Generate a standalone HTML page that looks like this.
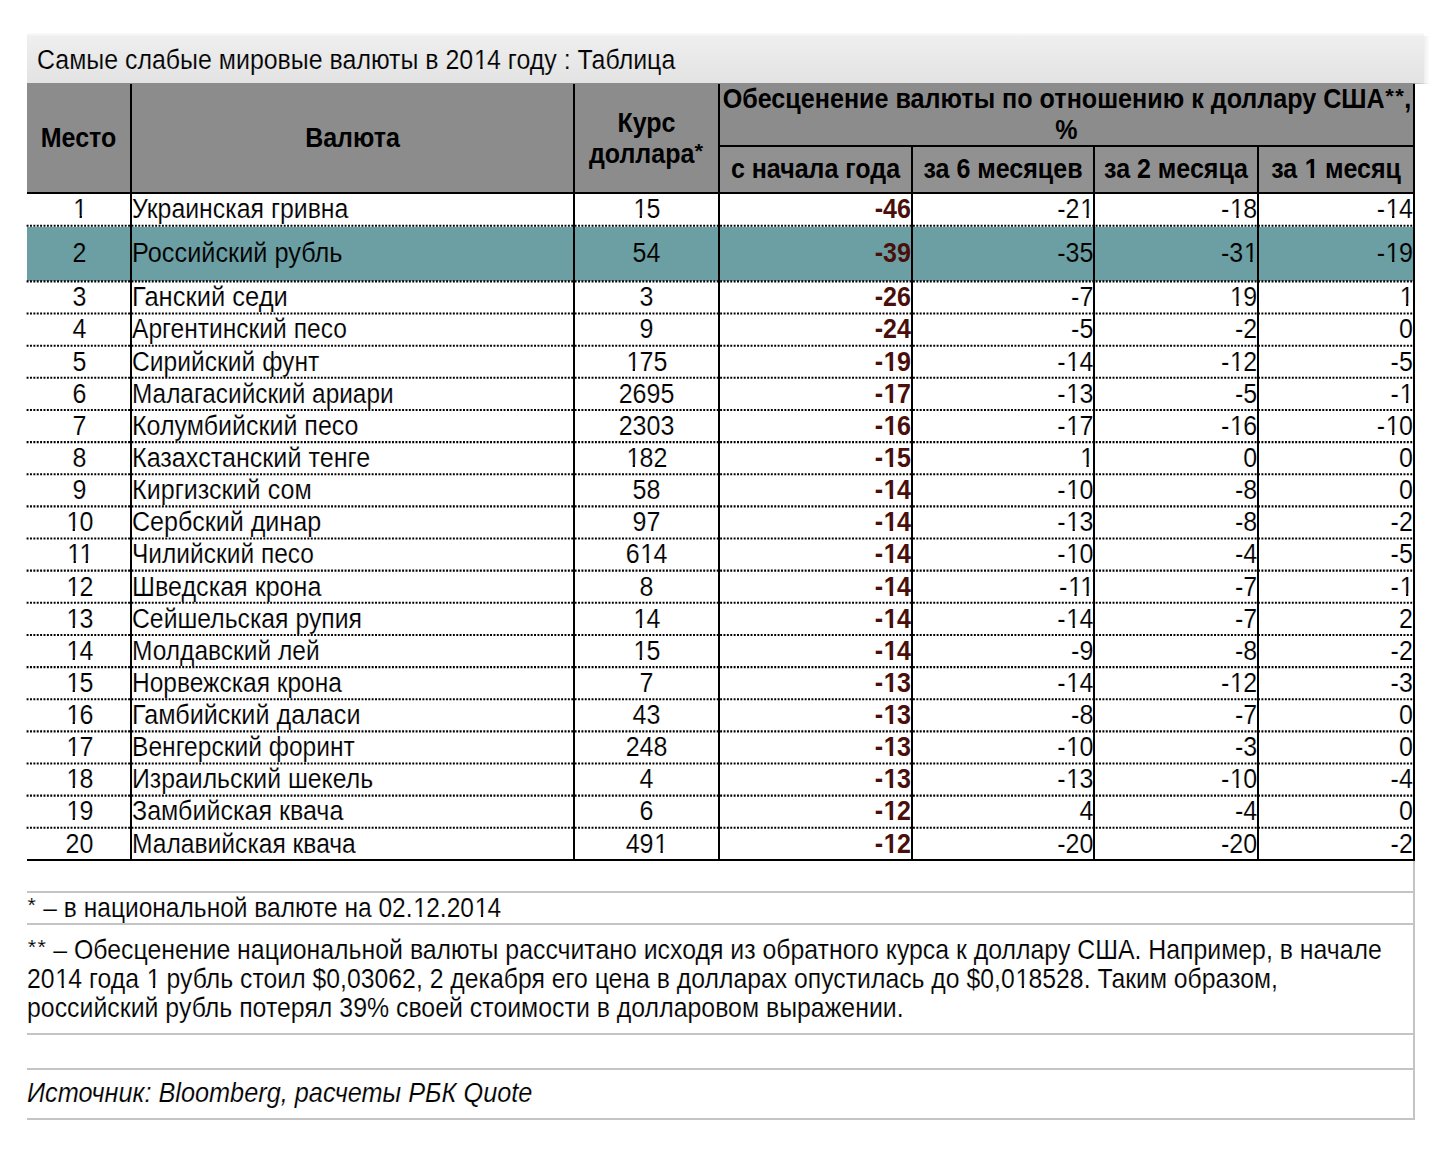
<!DOCTYPE html>
<html><head><meta charset="utf-8"><title>Самые слабые мировые валюты в 2014 году</title>
<style>
html,body{margin:0;padding:0;background:#fff;}
body{width:1440px;height:1150px;position:relative;overflow:hidden;font-family:"Liberation Sans",sans-serif;color:#000;}
.r{position:absolute;}
.t{position:absolute;font-size:25.0px;line-height:30.0px;white-space:nowrap;transform-origin:0 23.66px;-webkit-text-stroke:0.15px #fff;}
.b{-webkit-text-stroke-width:0;}
.hd{-webkit-text-stroke-color:#8c8c8c;}
.sh{-webkit-text-stroke-color:#919191;}
.tl{-webkit-text-stroke-color:#ebebeb;}
.tr{-webkit-text-stroke-color:#6b9fa3;}
.c{text-align:center;}
.b{font-weight:bold;}
.i{font-style:italic;}
.red{color:#4a0f0b;}
.as{display:inline-block;transform:scale(0.87,0.75);transform-origin:50% 6.5px;}
.asb{display:inline-block;transform:scale(0.88,0.72);transform-origin:50% 6.5px;}
.o1{display:inline;position:relative;left:0.8px;clip-path:polygon(0 0,100% 0,100% 20.5px,8.55px 20.5px,8.55px 100%,6.25px 100%,6.25px 20.5px,0 20.5px);}
.o1b{display:inline;position:relative;left:0.75px;clip-path:polygon(0 0,100% 0,100% 19.9px,9.3px 19.9px,9.3px 100%,5.8px 100%,5.8px 19.9px,0 19.9px);}
</style></head><body>
<div class="r" style="left:27px;top:33px;width:1397.4px;height:50px;background:linear-gradient(#fbfbfb 0px,#efefef 3.5px,#e9e9e9 25px,#e3e3e3 50px);"></div>
<div class="r" style="left:1424.4px;top:36px;width:5px;height:47px;background:linear-gradient(90deg,#eeeeee,#fdfdfd);"></div>
<div class="r" style="left:1414.5px;top:82.6px;width:14px;height:1.6px;background:linear-gradient(90deg,#b8b8b8,#c8c8c8 40%,#fafafa);"></div>
<div class="t tl" style="left:37.30px;top:44.94px;transform:scale(0.9970,1.08);">Самые слабые мировые валюты в 20<span class="o1">1</span>4 году : Таблица</div>
<div class="r" style="left:27px;top:83px;width:1387.7px;height:110px;background:#8c8c8c;"></div>
<div class="r" style="left:720px;top:147px;width:693px;height:46px;background:#919191;"></div>
<div class="r" style="left:27px;top:226.5px;width:1386px;height:54.5px;background:#6b9fa3;"></div>
<svg class="r" style="left:0;top:0" width="1440" height="1150"><line x1="26.6" y1="225.70" x2="1413" y2="225.70" stroke="#000" stroke-width="2.1" stroke-dasharray="1.95 1.433"/><line x1="26.6" y1="281.40" x2="1413" y2="281.40" stroke="#000" stroke-width="2.1" stroke-dasharray="1.95 1.433"/><line x1="26.6" y1="313.54" x2="1413" y2="313.54" stroke="#000" stroke-width="2.1" stroke-dasharray="1.95 1.433"/><line x1="26.6" y1="345.68" x2="1413" y2="345.68" stroke="#000" stroke-width="2.1" stroke-dasharray="1.95 1.433"/><line x1="26.6" y1="377.82" x2="1413" y2="377.82" stroke="#000" stroke-width="2.1" stroke-dasharray="1.95 1.433"/><line x1="26.6" y1="409.96" x2="1413" y2="409.96" stroke="#000" stroke-width="2.1" stroke-dasharray="1.95 1.433"/><line x1="26.6" y1="442.10" x2="1413" y2="442.10" stroke="#000" stroke-width="2.1" stroke-dasharray="1.95 1.433"/><line x1="26.6" y1="474.24" x2="1413" y2="474.24" stroke="#000" stroke-width="2.1" stroke-dasharray="1.95 1.433"/><line x1="26.6" y1="506.38" x2="1413" y2="506.38" stroke="#000" stroke-width="2.1" stroke-dasharray="1.95 1.433"/><line x1="26.6" y1="538.52" x2="1413" y2="538.52" stroke="#000" stroke-width="2.1" stroke-dasharray="1.95 1.433"/><line x1="26.6" y1="570.66" x2="1413" y2="570.66" stroke="#000" stroke-width="2.1" stroke-dasharray="1.95 1.433"/><line x1="26.6" y1="602.80" x2="1413" y2="602.80" stroke="#000" stroke-width="2.1" stroke-dasharray="1.95 1.433"/><line x1="26.6" y1="634.94" x2="1413" y2="634.94" stroke="#000" stroke-width="2.1" stroke-dasharray="1.95 1.433"/><line x1="26.6" y1="667.08" x2="1413" y2="667.08" stroke="#000" stroke-width="2.1" stroke-dasharray="1.95 1.433"/><line x1="26.6" y1="699.22" x2="1413" y2="699.22" stroke="#000" stroke-width="2.1" stroke-dasharray="1.95 1.433"/><line x1="26.6" y1="731.36" x2="1413" y2="731.36" stroke="#000" stroke-width="2.1" stroke-dasharray="1.95 1.433"/><line x1="26.6" y1="763.50" x2="1413" y2="763.50" stroke="#000" stroke-width="2.1" stroke-dasharray="1.95 1.433"/><line x1="26.6" y1="795.64" x2="1413" y2="795.64" stroke="#000" stroke-width="2.1" stroke-dasharray="1.95 1.433"/><line x1="26.6" y1="827.78" x2="1413" y2="827.78" stroke="#000" stroke-width="2.1" stroke-dasharray="1.95 1.433"/></svg>
<div class="r" style="left:718.1px;top:145px;width:695px;height:2px;background:#000;"></div>
<div class="r" style="left:27px;top:192.2px;width:1387.7px;height:2px;background:#000;"></div>
<div class="r" style="left:27px;top:859px;width:1387.7px;height:2px;background:#000;"></div>
<div class="r" style="left:130.2px;top:84px;width:2px;height:777px;background:#000;"></div>
<div class="r" style="left:572.7px;top:84px;width:2px;height:777px;background:#000;"></div>
<div class="r" style="left:718.1px;top:84px;width:2px;height:777px;background:#000;"></div>
<div class="r" style="left:910.9px;top:145px;width:2px;height:716px;background:#000;"></div>
<div class="r" style="left:1093.3px;top:145px;width:2px;height:716px;background:#000;"></div>
<div class="r" style="left:1257.1px;top:145px;width:2px;height:716px;background:#000;"></div>
<div class="r" style="left:1412.8px;top:84px;width:2px;height:777px;background:#000;"></div>
<div class="t c b hd" style="left:-521.50px;width:1200px;top:123.34px;transform:scale(1.0000,1.08);transform-origin:600px 23.66px;">Место</div>
<div class="t c b hd" style="left:-247.50px;width:1200px;top:123.34px;transform:scale(1.0000,1.08);transform-origin:600px 23.66px;">Валюта</div>
<div class="t c b hd" style="left:46.50px;width:1200px;top:107.94px;transform:scale(1.0000,1.08);transform-origin:600px 23.66px;">Курс</div>
<div class="t c b hd" style="left:46.50px;width:1200px;top:138.54px;transform:scale(1.0000,1.08);transform-origin:600px 23.66px;">доллара<span class="asb">*</span></div>
<div class="t c b hd" style="left:466.50px;width:1200px;top:84.14px;transform:scale(1.0050,1.08);transform-origin:600px 23.66px;">Обесценение валюты по отношению к доллару США<span class="asb">*</span><span class="asb">*</span>,</div>
<div class="t c b hd" style="left:466.30px;width:1200px;top:114.74px;transform:scale(1.0000,1.08);transform-origin:600px 23.66px;">%</div>
<div class="t c b sh" style="left:215.50px;width:1200px;top:153.94px;transform:scale(1.0000,1.08);transform-origin:600px 23.66px;">с начала года</div>
<div class="t c b sh" style="left:403.00px;width:1200px;top:153.94px;transform:scale(1.0000,1.08);transform-origin:600px 23.66px;">за 6 месяцев</div>
<div class="t c b sh" style="left:576.00px;width:1200px;top:153.94px;transform:scale(1.0000,1.08);transform-origin:600px 23.66px;">за 2 месяца</div>
<div class="t c b sh" style="left:736.00px;width:1200px;top:153.94px;transform:scale(1.0000,1.08);transform-origin:600px 23.66px;">за <span class="o1b">1</span> месяц</div>
<div class="t c " style="left:-520.50px;width:1200px;top:194.24px;transform:scale(1.0000,1.08);transform-origin:600px 23.66px;"><span class="o1">1</span></div>
<div class="t " style="left:132.10px;top:194.24px;transform:scale(0.9945,1.08);">Украинская гривна</div>
<div class="t c " style="left:46.50px;width:1200px;top:194.24px;transform:scale(1.0000,1.08);transform-origin:600px 23.66px;"><span class="o1">1</span>5</div>
<div class="t b red" style="right:529.10px;top:194.24px;transform:scale(1.0000,1.08);transform-origin:100% 23.66px;">-46</div>
<div class="t " style="right:346.70px;top:194.24px;transform:scale(1.0000,1.08);transform-origin:100% 23.66px;">-2<span class="o1">1</span></div>
<div class="t " style="right:182.90px;top:194.24px;transform:scale(1.0000,1.08);transform-origin:100% 23.66px;">-<span class="o1">1</span>8</div>
<div class="t " style="right:27.20px;top:194.24px;transform:scale(1.0000,1.08);transform-origin:100% 23.66px;">-<span class="o1">1</span>4</div>
<div class="t c  tr" style="left:-520.50px;width:1200px;top:238.34px;transform:scale(1.0000,1.08);transform-origin:600px 23.66px;">2</div>
<div class="t  tr" style="left:132.10px;top:238.34px;transform:scale(1.0122,1.08);">Российский рубль</div>
<div class="t c  tr" style="left:46.50px;width:1200px;top:238.34px;transform:scale(1.0000,1.08);transform-origin:600px 23.66px;">54</div>
<div class="t b red tr" style="right:529.10px;top:238.34px;transform:scale(1.0000,1.08);transform-origin:100% 23.66px;">-39</div>
<div class="t  tr" style="right:346.70px;top:238.34px;transform:scale(1.0000,1.08);transform-origin:100% 23.66px;">-35</div>
<div class="t  tr" style="right:182.90px;top:238.34px;transform:scale(1.0000,1.08);transform-origin:100% 23.66px;">-3<span class="o1">1</span></div>
<div class="t  tr" style="right:27.20px;top:238.34px;transform:scale(1.0000,1.08);transform-origin:100% 23.66px;">-<span class="o1">1</span>9</div>
<div class="t c " style="left:-520.50px;width:1200px;top:282.24px;transform:scale(1.0000,1.08);transform-origin:600px 23.66px;">3</div>
<div class="t " style="left:132.10px;top:282.24px;transform:scale(1.0214,1.08);">Ганский седи</div>
<div class="t c " style="left:46.50px;width:1200px;top:282.24px;transform:scale(1.0000,1.08);transform-origin:600px 23.66px;">3</div>
<div class="t b red" style="right:529.10px;top:282.24px;transform:scale(1.0000,1.08);transform-origin:100% 23.66px;">-26</div>
<div class="t " style="right:346.70px;top:282.24px;transform:scale(1.0000,1.08);transform-origin:100% 23.66px;">-7</div>
<div class="t " style="right:182.90px;top:282.24px;transform:scale(1.0000,1.08);transform-origin:100% 23.66px;"><span class="o1">1</span>9</div>
<div class="t " style="right:27.20px;top:282.24px;transform:scale(1.0000,1.08);transform-origin:100% 23.66px;"><span class="o1">1</span></div>
<div class="t c " style="left:-520.50px;width:1200px;top:314.38px;transform:scale(1.0000,1.08);transform-origin:600px 23.66px;">4</div>
<div class="t " style="left:132.10px;top:314.38px;transform:scale(0.9834,1.08);">Аргентинский песо</div>
<div class="t c " style="left:46.50px;width:1200px;top:314.38px;transform:scale(1.0000,1.08);transform-origin:600px 23.66px;">9</div>
<div class="t b red" style="right:529.10px;top:314.38px;transform:scale(1.0000,1.08);transform-origin:100% 23.66px;">-24</div>
<div class="t " style="right:346.70px;top:314.38px;transform:scale(1.0000,1.08);transform-origin:100% 23.66px;">-5</div>
<div class="t " style="right:182.90px;top:314.38px;transform:scale(1.0000,1.08);transform-origin:100% 23.66px;">-2</div>
<div class="t " style="right:27.20px;top:314.38px;transform:scale(1.0000,1.08);transform-origin:100% 23.66px;">0</div>
<div class="t c " style="left:-520.50px;width:1200px;top:346.52px;transform:scale(1.0000,1.08);transform-origin:600px 23.66px;">5</div>
<div class="t " style="left:132.10px;top:346.52px;transform:scale(0.9846,1.08);">Сирийский фунт</div>
<div class="t c " style="left:46.50px;width:1200px;top:346.52px;transform:scale(1.0000,1.08);transform-origin:600px 23.66px;"><span class="o1">1</span>75</div>
<div class="t b red" style="right:529.10px;top:346.52px;transform:scale(1.0000,1.08);transform-origin:100% 23.66px;">-<span class="o1b">1</span>9</div>
<div class="t " style="right:346.70px;top:346.52px;transform:scale(1.0000,1.08);transform-origin:100% 23.66px;">-<span class="o1">1</span>4</div>
<div class="t " style="right:182.90px;top:346.52px;transform:scale(1.0000,1.08);transform-origin:100% 23.66px;">-<span class="o1">1</span>2</div>
<div class="t " style="right:27.20px;top:346.52px;transform:scale(1.0000,1.08);transform-origin:100% 23.66px;">-5</div>
<div class="t c " style="left:-520.50px;width:1200px;top:378.66px;transform:scale(1.0000,1.08);transform-origin:600px 23.66px;">6</div>
<div class="t " style="left:132.10px;top:378.66px;transform:scale(0.9751,1.08);">Малагасийский ариари</div>
<div class="t c " style="left:46.50px;width:1200px;top:378.66px;transform:scale(1.0000,1.08);transform-origin:600px 23.66px;">2695</div>
<div class="t b red" style="right:529.10px;top:378.66px;transform:scale(1.0000,1.08);transform-origin:100% 23.66px;">-<span class="o1b">1</span>7</div>
<div class="t " style="right:346.70px;top:378.66px;transform:scale(1.0000,1.08);transform-origin:100% 23.66px;">-<span class="o1">1</span>3</div>
<div class="t " style="right:182.90px;top:378.66px;transform:scale(1.0000,1.08);transform-origin:100% 23.66px;">-5</div>
<div class="t " style="right:27.20px;top:378.66px;transform:scale(1.0000,1.08);transform-origin:100% 23.66px;">-<span class="o1">1</span></div>
<div class="t c " style="left:-520.50px;width:1200px;top:410.80px;transform:scale(1.0000,1.08);transform-origin:600px 23.66px;">7</div>
<div class="t " style="left:132.10px;top:410.80px;transform:scale(1.0009,1.08);">Колумбийский песо</div>
<div class="t c " style="left:46.50px;width:1200px;top:410.80px;transform:scale(1.0000,1.08);transform-origin:600px 23.66px;">2303</div>
<div class="t b red" style="right:529.10px;top:410.80px;transform:scale(1.0000,1.08);transform-origin:100% 23.66px;">-<span class="o1b">1</span>6</div>
<div class="t " style="right:346.70px;top:410.80px;transform:scale(1.0000,1.08);transform-origin:100% 23.66px;">-<span class="o1">1</span>7</div>
<div class="t " style="right:182.90px;top:410.80px;transform:scale(1.0000,1.08);transform-origin:100% 23.66px;">-<span class="o1">1</span>6</div>
<div class="t " style="right:27.20px;top:410.80px;transform:scale(1.0000,1.08);transform-origin:100% 23.66px;">-<span class="o1">1</span>0</div>
<div class="t c " style="left:-520.50px;width:1200px;top:442.94px;transform:scale(1.0000,1.08);transform-origin:600px 23.66px;">8</div>
<div class="t " style="left:132.10px;top:442.94px;transform:scale(1.0055,1.08);">Казахстанский тенге</div>
<div class="t c " style="left:46.50px;width:1200px;top:442.94px;transform:scale(1.0000,1.08);transform-origin:600px 23.66px;"><span class="o1">1</span>82</div>
<div class="t b red" style="right:529.10px;top:442.94px;transform:scale(1.0000,1.08);transform-origin:100% 23.66px;">-<span class="o1b">1</span>5</div>
<div class="t " style="right:346.70px;top:442.94px;transform:scale(1.0000,1.08);transform-origin:100% 23.66px;"><span class="o1">1</span></div>
<div class="t " style="right:182.90px;top:442.94px;transform:scale(1.0000,1.08);transform-origin:100% 23.66px;">0</div>
<div class="t " style="right:27.20px;top:442.94px;transform:scale(1.0000,1.08);transform-origin:100% 23.66px;">0</div>
<div class="t c " style="left:-520.50px;width:1200px;top:475.08px;transform:scale(1.0000,1.08);transform-origin:600px 23.66px;">9</div>
<div class="t " style="left:132.10px;top:475.08px;transform:scale(1.0046,1.08);">Киргизский сом</div>
<div class="t c " style="left:46.50px;width:1200px;top:475.08px;transform:scale(1.0000,1.08);transform-origin:600px 23.66px;">58</div>
<div class="t b red" style="right:529.10px;top:475.08px;transform:scale(1.0000,1.08);transform-origin:100% 23.66px;">-<span class="o1b">1</span>4</div>
<div class="t " style="right:346.70px;top:475.08px;transform:scale(1.0000,1.08);transform-origin:100% 23.66px;">-<span class="o1">1</span>0</div>
<div class="t " style="right:182.90px;top:475.08px;transform:scale(1.0000,1.08);transform-origin:100% 23.66px;">-8</div>
<div class="t " style="right:27.20px;top:475.08px;transform:scale(1.0000,1.08);transform-origin:100% 23.66px;">0</div>
<div class="t c " style="left:-520.50px;width:1200px;top:507.22px;transform:scale(1.0000,1.08);transform-origin:600px 23.66px;"><span class="o1">1</span>0</div>
<div class="t " style="left:132.10px;top:507.22px;transform:scale(1.0038,1.08);">Сербский динар</div>
<div class="t c " style="left:46.50px;width:1200px;top:507.22px;transform:scale(1.0000,1.08);transform-origin:600px 23.66px;">97</div>
<div class="t b red" style="right:529.10px;top:507.22px;transform:scale(1.0000,1.08);transform-origin:100% 23.66px;">-<span class="o1b">1</span>4</div>
<div class="t " style="right:346.70px;top:507.22px;transform:scale(1.0000,1.08);transform-origin:100% 23.66px;">-<span class="o1">1</span>3</div>
<div class="t " style="right:182.90px;top:507.22px;transform:scale(1.0000,1.08);transform-origin:100% 23.66px;">-8</div>
<div class="t " style="right:27.20px;top:507.22px;transform:scale(1.0000,1.08);transform-origin:100% 23.66px;">-2</div>
<div class="t c " style="left:-520.50px;width:1200px;top:539.36px;transform:scale(1.0000,1.08);transform-origin:600px 23.66px;"><span class="o1">1</span><span class="o1">1</span></div>
<div class="t " style="left:132.10px;top:539.36px;transform:scale(0.9804,1.08);">Чилийский песо</div>
<div class="t c " style="left:46.50px;width:1200px;top:539.36px;transform:scale(1.0000,1.08);transform-origin:600px 23.66px;">6<span class="o1">1</span>4</div>
<div class="t b red" style="right:529.10px;top:539.36px;transform:scale(1.0000,1.08);transform-origin:100% 23.66px;">-<span class="o1b">1</span>4</div>
<div class="t " style="right:346.70px;top:539.36px;transform:scale(1.0000,1.08);transform-origin:100% 23.66px;">-<span class="o1">1</span>0</div>
<div class="t " style="right:182.90px;top:539.36px;transform:scale(1.0000,1.08);transform-origin:100% 23.66px;">-4</div>
<div class="t " style="right:27.20px;top:539.36px;transform:scale(1.0000,1.08);transform-origin:100% 23.66px;">-5</div>
<div class="t c " style="left:-520.50px;width:1200px;top:571.50px;transform:scale(1.0000,1.08);transform-origin:600px 23.66px;"><span class="o1">1</span>2</div>
<div class="t " style="left:132.10px;top:571.50px;transform:scale(1.0037,1.08);">Шведская крона</div>
<div class="t c " style="left:46.50px;width:1200px;top:571.50px;transform:scale(1.0000,1.08);transform-origin:600px 23.66px;">8</div>
<div class="t b red" style="right:529.10px;top:571.50px;transform:scale(1.0000,1.08);transform-origin:100% 23.66px;">-<span class="o1b">1</span>4</div>
<div class="t " style="right:346.70px;top:571.50px;transform:scale(1.0000,1.08);transform-origin:100% 23.66px;">-<span class="o1">1</span><span class="o1">1</span></div>
<div class="t " style="right:182.90px;top:571.50px;transform:scale(1.0000,1.08);transform-origin:100% 23.66px;">-7</div>
<div class="t " style="right:27.20px;top:571.50px;transform:scale(1.0000,1.08);transform-origin:100% 23.66px;">-<span class="o1">1</span></div>
<div class="t c " style="left:-520.50px;width:1200px;top:603.64px;transform:scale(1.0000,1.08);transform-origin:600px 23.66px;"><span class="o1">1</span>3</div>
<div class="t " style="left:132.10px;top:603.64px;transform:scale(0.9900,1.08);">Сейшельская рупия</div>
<div class="t c " style="left:46.50px;width:1200px;top:603.64px;transform:scale(1.0000,1.08);transform-origin:600px 23.66px;"><span class="o1">1</span>4</div>
<div class="t b red" style="right:529.10px;top:603.64px;transform:scale(1.0000,1.08);transform-origin:100% 23.66px;">-<span class="o1b">1</span>4</div>
<div class="t " style="right:346.70px;top:603.64px;transform:scale(1.0000,1.08);transform-origin:100% 23.66px;">-<span class="o1">1</span>4</div>
<div class="t " style="right:182.90px;top:603.64px;transform:scale(1.0000,1.08);transform-origin:100% 23.66px;">-7</div>
<div class="t " style="right:27.20px;top:603.64px;transform:scale(1.0000,1.08);transform-origin:100% 23.66px;">2</div>
<div class="t c " style="left:-520.50px;width:1200px;top:635.78px;transform:scale(1.0000,1.08);transform-origin:600px 23.66px;"><span class="o1">1</span>4</div>
<div class="t " style="left:132.10px;top:635.78px;transform:scale(0.9809,1.08);">Молдавский лей</div>
<div class="t c " style="left:46.50px;width:1200px;top:635.78px;transform:scale(1.0000,1.08);transform-origin:600px 23.66px;"><span class="o1">1</span>5</div>
<div class="t b red" style="right:529.10px;top:635.78px;transform:scale(1.0000,1.08);transform-origin:100% 23.66px;">-<span class="o1b">1</span>4</div>
<div class="t " style="right:346.70px;top:635.78px;transform:scale(1.0000,1.08);transform-origin:100% 23.66px;">-9</div>
<div class="t " style="right:182.90px;top:635.78px;transform:scale(1.0000,1.08);transform-origin:100% 23.66px;">-8</div>
<div class="t " style="right:27.20px;top:635.78px;transform:scale(1.0000,1.08);transform-origin:100% 23.66px;">-2</div>
<div class="t c " style="left:-520.50px;width:1200px;top:667.92px;transform:scale(1.0000,1.08);transform-origin:600px 23.66px;"><span class="o1">1</span>5</div>
<div class="t " style="left:132.10px;top:667.92px;transform:scale(0.9807,1.08);">Норвежская крона</div>
<div class="t c " style="left:46.50px;width:1200px;top:667.92px;transform:scale(1.0000,1.08);transform-origin:600px 23.66px;">7</div>
<div class="t b red" style="right:529.10px;top:667.92px;transform:scale(1.0000,1.08);transform-origin:100% 23.66px;">-<span class="o1b">1</span>3</div>
<div class="t " style="right:346.70px;top:667.92px;transform:scale(1.0000,1.08);transform-origin:100% 23.66px;">-<span class="o1">1</span>4</div>
<div class="t " style="right:182.90px;top:667.92px;transform:scale(1.0000,1.08);transform-origin:100% 23.66px;">-<span class="o1">1</span>2</div>
<div class="t " style="right:27.20px;top:667.92px;transform:scale(1.0000,1.08);transform-origin:100% 23.66px;">-3</div>
<div class="t c " style="left:-520.50px;width:1200px;top:700.06px;transform:scale(1.0000,1.08);transform-origin:600px 23.66px;"><span class="o1">1</span>6</div>
<div class="t " style="left:132.10px;top:700.06px;transform:scale(1.0067,1.08);">Гамбийский даласи</div>
<div class="t c " style="left:46.50px;width:1200px;top:700.06px;transform:scale(1.0000,1.08);transform-origin:600px 23.66px;">43</div>
<div class="t b red" style="right:529.10px;top:700.06px;transform:scale(1.0000,1.08);transform-origin:100% 23.66px;">-<span class="o1b">1</span>3</div>
<div class="t " style="right:346.70px;top:700.06px;transform:scale(1.0000,1.08);transform-origin:100% 23.66px;">-8</div>
<div class="t " style="right:182.90px;top:700.06px;transform:scale(1.0000,1.08);transform-origin:100% 23.66px;">-7</div>
<div class="t " style="right:27.20px;top:700.06px;transform:scale(1.0000,1.08);transform-origin:100% 23.66px;">0</div>
<div class="t c " style="left:-520.50px;width:1200px;top:732.20px;transform:scale(1.0000,1.08);transform-origin:600px 23.66px;"><span class="o1">1</span>7</div>
<div class="t " style="left:132.10px;top:732.20px;transform:scale(0.9831,1.08);">Венгерский форинт</div>
<div class="t c " style="left:46.50px;width:1200px;top:732.20px;transform:scale(1.0000,1.08);transform-origin:600px 23.66px;">248</div>
<div class="t b red" style="right:529.10px;top:732.20px;transform:scale(1.0000,1.08);transform-origin:100% 23.66px;">-<span class="o1b">1</span>3</div>
<div class="t " style="right:346.70px;top:732.20px;transform:scale(1.0000,1.08);transform-origin:100% 23.66px;">-<span class="o1">1</span>0</div>
<div class="t " style="right:182.90px;top:732.20px;transform:scale(1.0000,1.08);transform-origin:100% 23.66px;">-3</div>
<div class="t " style="right:27.20px;top:732.20px;transform:scale(1.0000,1.08);transform-origin:100% 23.66px;">0</div>
<div class="t c " style="left:-520.50px;width:1200px;top:764.34px;transform:scale(1.0000,1.08);transform-origin:600px 23.66px;"><span class="o1">1</span>8</div>
<div class="t " style="left:132.10px;top:764.34px;transform:scale(0.9921,1.08);">Израильский шекель</div>
<div class="t c " style="left:46.50px;width:1200px;top:764.34px;transform:scale(1.0000,1.08);transform-origin:600px 23.66px;">4</div>
<div class="t b red" style="right:529.10px;top:764.34px;transform:scale(1.0000,1.08);transform-origin:100% 23.66px;">-<span class="o1b">1</span>3</div>
<div class="t " style="right:346.70px;top:764.34px;transform:scale(1.0000,1.08);transform-origin:100% 23.66px;">-<span class="o1">1</span>3</div>
<div class="t " style="right:182.90px;top:764.34px;transform:scale(1.0000,1.08);transform-origin:100% 23.66px;">-<span class="o1">1</span>0</div>
<div class="t " style="right:27.20px;top:764.34px;transform:scale(1.0000,1.08);transform-origin:100% 23.66px;">-4</div>
<div class="t c " style="left:-520.50px;width:1200px;top:796.48px;transform:scale(1.0000,1.08);transform-origin:600px 23.66px;"><span class="o1">1</span>9</div>
<div class="t " style="left:132.10px;top:796.48px;transform:scale(1.0029,1.08);">Замбийская квача</div>
<div class="t c " style="left:46.50px;width:1200px;top:796.48px;transform:scale(1.0000,1.08);transform-origin:600px 23.66px;">6</div>
<div class="t b red" style="right:529.10px;top:796.48px;transform:scale(1.0000,1.08);transform-origin:100% 23.66px;">-<span class="o1b">1</span>2</div>
<div class="t " style="right:346.70px;top:796.48px;transform:scale(1.0000,1.08);transform-origin:100% 23.66px;">4</div>
<div class="t " style="right:182.90px;top:796.48px;transform:scale(1.0000,1.08);transform-origin:100% 23.66px;">-4</div>
<div class="t " style="right:27.20px;top:796.48px;transform:scale(1.0000,1.08);transform-origin:100% 23.66px;">0</div>
<div class="t c " style="left:-520.50px;width:1200px;top:828.62px;transform:scale(1.0000,1.08);transform-origin:600px 23.66px;">20</div>
<div class="t " style="left:132.10px;top:828.62px;transform:scale(0.9845,1.08);">Малавийская квача</div>
<div class="t c " style="left:46.50px;width:1200px;top:828.62px;transform:scale(1.0000,1.08);transform-origin:600px 23.66px;">49<span class="o1">1</span></div>
<div class="t b red" style="right:529.10px;top:828.62px;transform:scale(1.0000,1.08);transform-origin:100% 23.66px;">-<span class="o1b">1</span>2</div>
<div class="t " style="right:346.70px;top:828.62px;transform:scale(1.0000,1.08);transform-origin:100% 23.66px;">-20</div>
<div class="t " style="right:182.90px;top:828.62px;transform:scale(1.0000,1.08);transform-origin:100% 23.66px;">-20</div>
<div class="t " style="right:27.20px;top:828.62px;transform:scale(1.0000,1.08);transform-origin:100% 23.66px;">-2</div>
<div class="r" style="left:27px;top:891px;width:1387.8px;height:2px;background:#c4c4c4;"></div>
<div class="r" style="left:27px;top:923px;width:1387.8px;height:2px;background:#c4c4c4;"></div>
<div class="r" style="left:27px;top:1033px;width:1387.8px;height:2px;background:#c4c4c4;"></div>
<div class="r" style="left:27px;top:1068px;width:1387.8px;height:2px;background:#c4c4c4;"></div>
<div class="r" style="left:27px;top:1118px;width:1387.8px;height:2px;background:#c4c4c4;"></div>
<div class="r" style="left:1412.8px;top:861px;width:2px;height:258.5px;background:#c4c4c4;"></div>
<div class="t " style="left:27.30px;top:892.54px;transform:scale(0.9817,1.075);"><span class="as">*</span> – в национальной валюте на 02.<span class="o1">1</span>2.20<span class="o1">1</span>4</div>
<div class="t " style="left:27.30px;top:934.84px;transform:scale(0.9938,1.075);"><span class="as">*</span><span class="as">*</span> – Обесценение национальной валюты рассчитано исходя из обратного курса к доллару США. Например, в начале</div>
<div class="t " style="left:27.30px;top:963.84px;transform:scale(0.9913,1.075);">20<span class="o1">1</span>4 года <span class="o1">1</span> рубль стоил $0,03062, 2 декабря его цена в долларах опустилась до $0,0<span class="o1">1</span>8528. Таким образом,</div>
<div class="t " style="left:27.30px;top:992.84px;transform:scale(0.9950,1.075);">российский рубль потерял 39% своей стоимости в долларовом выражении.</div>
<div class="t i" style="left:27.30px;top:1078.34px;transform:scale(1.0112,1.075);">Источник: Bloomberg, расчеты РБК Quote</div>
</body></html>
